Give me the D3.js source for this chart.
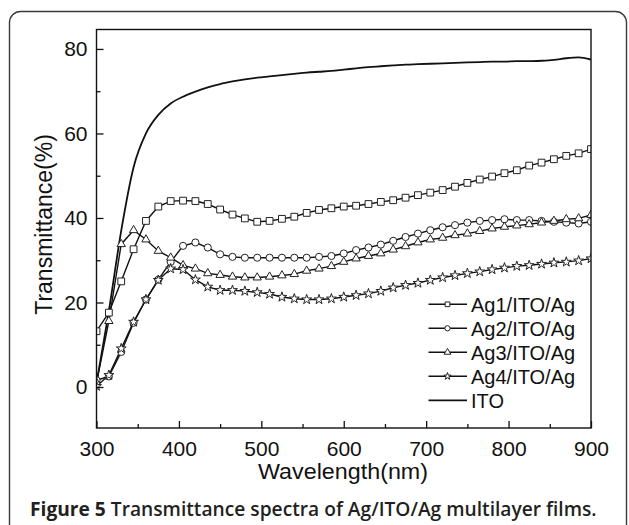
<!DOCTYPE html>
<html>
<head>
<meta charset="utf-8">
<script src="https://cdn.jsdelivr.net/npm/d3@7/dist/d3.min.js"></script>
<style>
  html, body { margin: 0; padding: 0; background: #fff; }
  svg { display: block; }
</style>
</head>
<body>
<svg id="chart" width="629" height="525"></svg>
<script>
// ---- data ----
const wavelengths = [300,315,330,345,360,375,390,405,420,435,450,465,480,495,510,525,540,555,570,585,600,615,630,645,660,675,690,705,720,735,750,765,780,795,810,825,840,855,870,885,900];
const ag1 = [13.2,17.6,25.0,32.6,39.3,42.7,44.0,44.1,44.0,43.3,42.0,40.8,39.9,39.1,39.3,39.8,40.3,41.2,41.9,42.3,42.7,42.9,43.3,43.8,44.2,44.8,45.4,46.0,46.6,47.4,48.3,49.1,49.8,50.6,51.3,52.4,53.1,53.9,54.7,55.3,56.3];
const ag2 = [1.6,2.5,8.3,15.2,20.7,25.4,29.6,33.4,34.2,33.0,31.4,30.8,30.6,30.6,30.6,30.6,30.6,30.6,30.8,31.0,31.6,32.4,33.0,33.7,34.6,35.5,36.3,37.1,37.8,38.3,38.9,39.3,39.5,39.7,39.5,39.5,39.3,39.1,38.9,38.7,39.1];
const ag3 = [1.0,15.6,33.8,37.1,34.9,32.2,30.6,28.8,28.0,26.9,26.5,26.1,25.9,25.9,26.1,26.4,26.7,27.5,28.0,28.6,29.6,30.4,31.0,31.6,32.5,33.3,34.2,34.9,35.3,35.9,36.3,36.9,37.5,37.9,38.2,38.5,38.9,39.3,39.7,39.9,40.7];
const ag4 = [0.2,2.8,9.1,15.4,20.7,25.3,28.0,27.8,25.4,23.7,22.9,22.9,22.7,22.4,22.0,21.3,20.9,20.7,20.7,20.9,21.3,21.7,22.1,22.7,23.5,24.1,24.6,25.3,25.9,26.4,26.9,27.3,27.8,28.2,28.6,28.8,29.1,29.4,29.6,29.9,30.4];
const ito = [1.0,18.0,37.0,52.0,60.0,64.4,67.1,68.7,69.9,70.9,71.7,72.3,72.8,73.2,73.5,73.8,74.1,74.4,74.6,74.8,75.1,75.4,75.7,75.9,76.1,76.3,76.4,76.5,76.6,76.7,76.8,76.9,77.0,77.0,77.1,77.1,77.2,77.4,77.8,78.0,77.5];
const seriesNames = ["Ag1/ITO/Ag","Ag2/ITO/Ag","Ag3/ITO/Ag","Ag4/ITO/Ag","ITO"];
const xTicks = [300,400,500,600,700,800,900];
const xMinorTicks = [350,450,550,650,750,850];
const yTicks = [0,20,40,60,80];
const yMinorTicks = [10,30,50,70];
const xTitle = "Wavelength(nm)";
const yTitle = "Transmittance(%)";
const captionBold = "Figure 5";
const captionRest = " Transmittance spectra of Ag/ITO/Ag multilayer films.";

// ---- layout ----
const svg = d3.select("#chart");
const L = 96.5, R = 591, T = 29.5, B = 428;
const x = d3.scaleLinear().domain([300, 900]).range([L, R]);
const y = d3.scaleLinear().domain([-9.7, 84.6]).range([B, T]);

// outer rounded box
svg.append("rect").attr("x", 9.5).attr("y", 11.5).attr("width", 617).attr("height", 600)
  .attr("rx", 11).attr("fill", "none").attr("stroke", "#3a3a3a").attr("stroke-width", 1.4);

svg.append("defs").append("clipPath").attr("id", "clip")
  .append("rect").attr("x", L).attr("y", T).attr("width", R - L).attr("height", B - T);

const plot = svg.append("g").attr("clip-path", "url(#clip)");

const series = [
  {name: seriesNames[0], vals: ag1, sym: d3.symbolSquare, size: 46, lsize: 22},
  {name: seriesNames[1], vals: ag2, sym: d3.symbolCircle, size: 40, lsize: 22},
  {name: seriesNames[2], vals: ag3, sym: d3.symbolTriangle, size: 30, lsize: 20},
  {name: seriesNames[3], vals: ag4, sym: d3.symbolStar, size: 30, lsize: 16},
  {name: seriesNames[4], vals: ito, sym: null}
];

const lineLin = d3.line().x(d => x(d[0])).y(d => y(d[1]));
const lineSmooth = d3.line().x(d => x(d[0])).y(d => y(d[1])).curve(d3.curveMonotoneX);

series.forEach(s => {
  const pts = wavelengths.map((w, i) => [w, s.vals[i]]);
  plot.append("path").datum(pts).attr("d", s.sym ? lineLin : lineSmooth)
    .attr("fill", "none").attr("stroke", "#111").attr("stroke-width", s.sym ? 1.4 : 1.8);
});
series.forEach(s => {
  if (!s.sym) return;
  const pts = wavelengths.map((w, i) => [w, s.vals[i]]);
  plot.selectAll(null).data(pts).enter().append("path")
    .attr("transform", d => `translate(${x(d[0])},${y(d[1])})`)
    .attr("d", d3.symbol().type(s.sym).size(s.size))
    .attr("fill", "#fff").attr("stroke", "#222").attr("stroke-width", 1);
});

// axes frame
const ax = svg.append("g").attr("stroke", "#111").attr("stroke-width", 1.4).attr("fill", "none");
ax.append("rect").attr("x", L).attr("y", T).attr("width", R - L).attr("height", B - T);

// x axis ticks (inward)
const xAxis = d3.axisBottom(x).tickValues(xTicks).tickSize(-7).tickPadding(13).tickFormat(d3.format("d"));
const gx = svg.append("g").attr("transform", `translate(0,${B})`).call(xAxis);
gx.select(".domain").remove();
gx.selectAll(".tick line").attr("stroke", "#111").attr("stroke-width", 1.3);
gx.selectAll(".tick text").attr("font-family", "Liberation Sans, Arial, sans-serif")
  .attr("font-size", 21).attr("fill", "#111");
const gxm = svg.append("g").attr("transform", `translate(0,${B})`)
  .call(d3.axisBottom(x).tickValues(xMinorTicks).tickSize(-4).tickFormat(""));
gxm.select(".domain").remove();
gxm.selectAll(".tick line").attr("stroke", "#111").attr("stroke-width", 1.3);

// y axis ticks (inward)
const yAxis = d3.axisLeft(y).tickValues(yTicks).tickSize(-7).tickPadding(9).tickFormat(d3.format("d"));
const gy = svg.append("g").attr("transform", `translate(${L},0)`).call(yAxis);
gy.select(".domain").remove();
gy.selectAll(".tick line").attr("stroke", "#111").attr("stroke-width", 1.3);
gy.selectAll(".tick text").attr("font-family", "Liberation Sans, Arial, sans-serif")
  .attr("font-size", 21).attr("fill", "#111");
const gym = svg.append("g").attr("transform", `translate(${L},0)`)
  .call(d3.axisLeft(y).tickValues(yMinorTicks).tickSize(-4).tickFormat(""));
gym.select(".domain").remove();
gym.selectAll(".tick line").attr("stroke", "#111").attr("stroke-width", 1.3);

// axis titles
svg.append("text").attr("x", 343).attr("y", 479).attr("text-anchor", "middle")
  .attr("font-family", "Liberation Sans, Arial, sans-serif").attr("font-size", 22).attr("fill", "#111")
  .attr("textLength", 170).attr("lengthAdjust", "spacingAndGlyphs")
  .text(xTitle);
svg.append("text").attr("transform", "translate(51.5,224.5) rotate(-90)").attr("text-anchor", "middle")
  .attr("font-family", "Liberation Sans, Arial, sans-serif").attr("font-size", 23).attr("fill", "#111")
  .text(yTitle);

// legend
const lg = svg.append("g");
const legY0 = 304.3, legStep = 24;
series.forEach((s, i) => {
  const yy = legY0 + i * legStep;
  lg.append("line").attr("x1", 428.5).attr("x2", 467).attr("y1", yy).attr("y2", yy)
    .attr("stroke", "#111").attr("stroke-width", s.sym ? 1.4 : 1.8);
  if (s.sym) {
    lg.append("path").attr("transform", `translate(447.5,${yy})`)
      .attr("d", d3.symbol().type(s.sym).size(s.lsize))
      .attr("fill", "#fff").attr("stroke", "#222").attr("stroke-width", 1);
  }
  lg.append("text").attr("x", 471).attr("y", yy).attr("dy", "0.36em")
    .attr("font-family", "Liberation Sans, Arial, sans-serif").attr("font-size", 20).attr("fill", "#111")
    .text(s.name);
});

// caption
const cap = svg.append("text").attr("x", 30).attr("y", 516)
  .attr("font-family", "Open Sans, Noto Sans, sans-serif").attr("font-size", 19).attr("fill", "#231f20");
cap.append("tspan").attr("font-weight", 700).text(captionBold);
cap.append("tspan").attr("font-weight", 600).text(captionRest);
const w = cap.node().getComputedTextLength();
cap.attr("font-size", 19 * 567 / w);
</script>
</body>
</html>
